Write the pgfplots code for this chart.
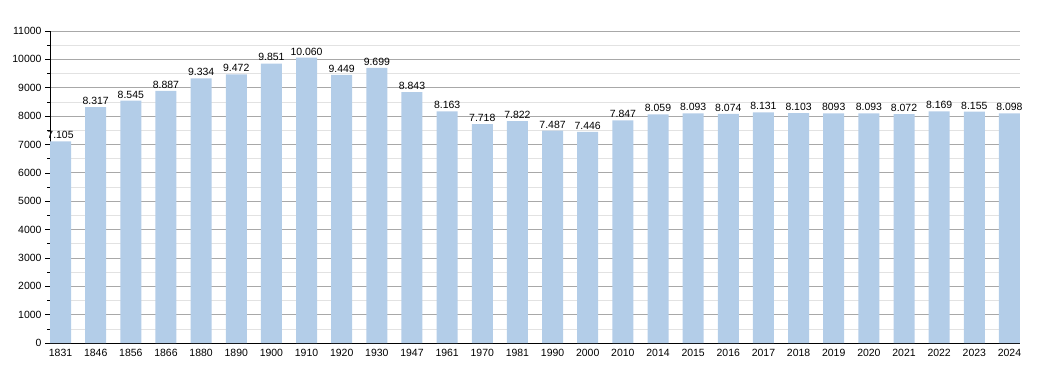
\documentclass[border=0pt]{standalone}
\usepackage{fontspec}
\setmainfont{Liberation Sans}
\usepackage{pgfplots}
\pgfplotsset{compat=1.18}
\definecolor{barblue}{HTML}{B3CDE8}
\definecolor{majgrid}{HTML}{A8A8A8}
\definecolor{mingrid}{HTML}{E2E2E2}
\begin{document}
\begin{tikzpicture}
\begin{axis}[
  scale only axis,
  width=970bp, height=312bp,
  xmin=-0.3, xmax=27.3,
  ymin=0, ymax=11000,
  axis x line*=bottom, axis y line*=left,
  axis line style={black, line width=0.9pt, -},
  xtick={0,...,27},
  xticklabels={1831,1846,1856,1866,1880,1890,1900,1910,1920,1930,1947,1961,1970,1981,1990,2000,2010,2014,2015,2016,2017,2018,2019,2020,2021,2022,2023,2024},
  x tick style={draw=none},
  ytick={0,1000,...,11000},
  minor ytick={500,1500,...,10500},
  y tick style={black, line width=0.6pt},
  major tick length=5bp, minor tick length=3bp,
  tick align=outside,
  ymajorgrids, yminorgrids,
  major grid style={majgrid, line width=0.7pt},
  minor grid style={mingrid, line width=0.6pt},
  scaled y ticks=false,
  y tick label style={/pgf/number format/fixed, /pgf/number format/1000 sep={}},
  /pgf/number format/assume math mode=true,
  tick label style={font=\fontsize{10.5}{12}\selectfont, black},
  xticklabel style={yshift=2bp},
  clip=false,
]
\addplot[ybar, bar width=21bp, fill=barblue, draw=none,
  nodes near coords={\pgfplotspointmeta},
  point meta=explicit symbolic,
  every node near coord/.append style={font=\fontsize{10.5}{12}\selectfont, black, yshift=-1bp},
] table[meta=lab] {
x y lab
0 7105 7.105
1 8317 8.317
2 8545 8.545
3 8887 8.887
4 9334 9.334
5 9472 9.472
6 9851 9.851
7 10060 10.060
8 9449 9.449
9 9699 9.699
10 8843 8.843
11 8163 8.163
12 7718 7.718
13 7822 7.822
14 7487 7.487
15 7446 7.446
16 7847 7.847
17 8059 8.059
18 8093 8.093
19 8074 8.074
20 8131 8.131
21 8103 8.103
22 8093 8093
23 8093 8.093
24 8072 8.072
25 8169 8.169
26 8155 8.155
27 8098 8.098
};
\coordinate (ll) at (rel axis cs:0,0);
\coordinate (ur) at (rel axis cs:1,1);
\end{axis}
\pgfresetboundingbox
\path ([shift={(-50bp,-30bp)}]ll) rectangle ([shift={(30bp,31bp)}]ur);
\end{tikzpicture}
\end{document}
